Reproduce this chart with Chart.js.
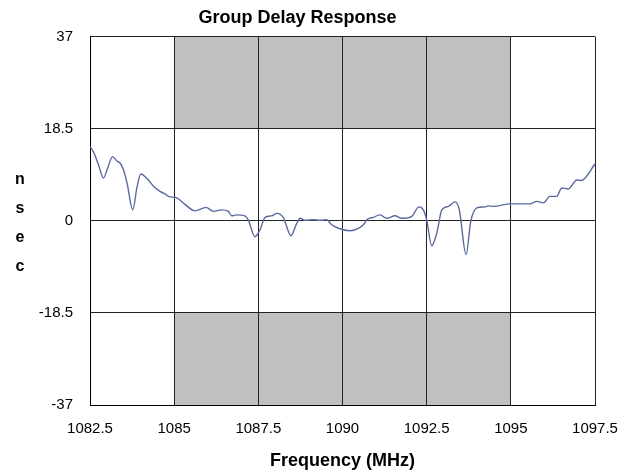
<!DOCTYPE html>
<html>
<head>
<meta charset="utf-8">
<script src="https://cdn.jsdelivr.net/npm/chart.js@4"></script>
<style>
  html, body { margin: 0; padding: 0; background: #fff; }
  #wrap { width: 626px; height: 474px; }
</style>
</head>
<body>
<div id="wrap"><canvas id="gdChart" width="626" height="474"></canvas></div>
<script>
// frequency (MHz) and group delay (nsec)
const freqMHz = [
  1082.5, 1082.6, 1082.75, 1082.9, 1083.02, 1083.17, 1083.3, 1083.39, 1083.49, 1083.6,
  1083.77, 1083.9, 1084.01, 1084.18, 1084.38, 1084.58, 1084.73, 1084.83, 1085.08, 1085.3,
  1085.62, 1085.95, 1086.16, 1086.41, 1086.61, 1086.71, 1086.86, 1087.1, 1087.2, 1087.4,
  1087.55, 1087.7, 1087.9, 1088.05, 1088.24, 1088.47, 1088.64, 1088.74, 1088.89, 1089.14,
  1089.34, 1089.53, 1089.68, 1089.88, 1090.22, 1090.47, 1090.62, 1090.74, 1090.92, 1091.11,
  1091.31, 1091.56, 1091.76, 1092.06, 1092.27, 1092.4, 1092.5, 1092.65, 1092.8, 1092.95,
  1093.15, 1093.34, 1093.47, 1093.67, 1093.81, 1093.99, 1094.23, 1094.33, 1094.48, 1094.98,
  1095.57, 1095.77, 1095.97, 1096.16, 1096.36, 1096.51, 1096.71, 1096.96, 1097.1, 1097.5
];
const delayNsec = [
  14.9, 13.9, 11.3, 8.6, 10.5, 12.9, 12.0, 11.6, 10.3, 7.6,
  2.2, 6.9, 9.4, 8.6, 7.0, 5.9, 5.4, 4.9, 4.6, 3.4,
  2.0, 2.7, 1.9, 2.2, 1.9, 1.0, 1.2, 1.0, 0.2, -3.2,
  -1.8, 0.7, 1.0, 1.5, 0.7, -3.0, -0.5, 0.5, 0.1, 0.2,
  0.1, 0.2, -0.8, -1.5, -2.0, -1.5, -0.8, 0.3, 0.7, 1.2,
  0.5, 1.0, 0.5, 0.9, 2.8, 2.2, 0.2, -5.0, -2.5, 2.2,
  2.9, 3.8, 2.2, -6.8, -0.1, 2.6, 2.8, 3.0, 2.9, 3.4,
  3.4, 3.9, 3.6, 4.9, 4.9, 6.6, 6.4, 8.2, 8.1, 11.4
];

const xTicks = [1082.5, 1085, 1087.5, 1090, 1092.5, 1095, 1097.5];
const yTicks = [-37, -18.5, 0, 18.5, 37];

// shaded limit boxes: [fromMHz, toMHz, lowNsec, highNsec]
const maskBoxes = [
  [1085, 1095, 18.5, 37],
  [1085, 1095, -37, -18.5]
];

const narrow = "'Liberation Sans Narrow', 'Arial Narrow', 'Liberation Sans', sans-serif";

const maskPlugin = {
  id: 'mask',
  // fill the limit boxes before the grid is drawn, so grid lines stay on top
  beforeDraw(chart) {
    const { ctx, scales: { x, y } } = chart;
    ctx.save();
    ctx.fillStyle = '#c0c0c0';
    maskBoxes.forEach(b => {
      const x0 = x.getPixelForValue(b[0]), x1 = x.getPixelForValue(b[1]);
      const y0 = y.getPixelForValue(b[3]), y1 = y.getPixelForValue(b[2]);
      ctx.fillRect(x0, y0, x1 - x0, y1 - y0);
    });
    ctx.restore();
  },
  afterDraw(chart) {
    const { ctx } = chart;
    ctx.save();
    ctx.fillStyle = '#000';
    ctx.font = "bold 16px 'Liberation Sans', sans-serif";
    ctx.textAlign = 'center';
    ctx.textBaseline = 'middle';
    ['n', 's', 'e', 'c'].forEach((ch, i) => ctx.fillText(ch, 20, 180 + i * 29));
    ctx.restore();
  }
};

new Chart(document.getElementById('gdChart'), {
  type: 'line',
  data: {
    datasets: [{
      label: 'Group Delay',
      data: freqMHz.map((f, i) => ({ x: f, y: delayNsec[i] })),
      borderColor: '#5a6aa0',
      borderWidth: 1.4,
      pointRadius: 0,
      cubicInterpolationMode: 'monotone',
      fill: false
    }]
  },
  options: {
    responsive: false,
    animation: false,
    layout: { padding: { top: 0, right: 31, bottom: 0, left: 0 } },
    plugins: {
      legend: { display: false },
      tooltip: { enabled: false },
      title: {
        display: true,
        text: 'Group Delay Response',
        color: '#000',
        font: { family: narrow, size: 18, weight: 'bold' },
        padding: { top: 7, bottom: 8 }
      }
    },
    scales: {
      x: {
        type: 'linear',
        min: 1082.5,
        max: 1097.5,
        afterBuildTicks: s => { s.ticks = xTicks.map(v => ({ value: v })); },
        afterFit: s => { s.height = 69; s.paddingLeft = 0; s.paddingRight = 0; },
        ticks: {
          callback: v => String(v),
          color: '#000',
          font: { family: narrow, size: 15 },
          padding: 15,
          maxRotation: 0
        },
        grid: { color: '#222', drawTicks: false },
        border: { color: '#000', width: 1 },
        title: {
          display: true,
          text: 'Frequency (MHz)',
          color: '#000',
          font: { family: narrow, size: 18, weight: 'bold' },
          padding: { top: 0, bottom: 2 }
        }
      },
      y: {
        type: 'linear',
        min: -37,
        max: 37,
        afterBuildTicks: s => { s.ticks = yTicks.map(v => ({ value: v })); },
        afterFit: s => { s.width = 90; s.paddingTop = 0; s.paddingBottom = 0; },
        ticks: {
          callback: v => String(v),
          color: '#000',
          font: { family: narrow, size: 15 },
          padding: 17
        },
        grid: { color: '#222', drawTicks: false },
        border: { color: '#000', width: 1 }
      }
    }
  },
  plugins: [maskPlugin]
});
</script>
</body>
</html>
